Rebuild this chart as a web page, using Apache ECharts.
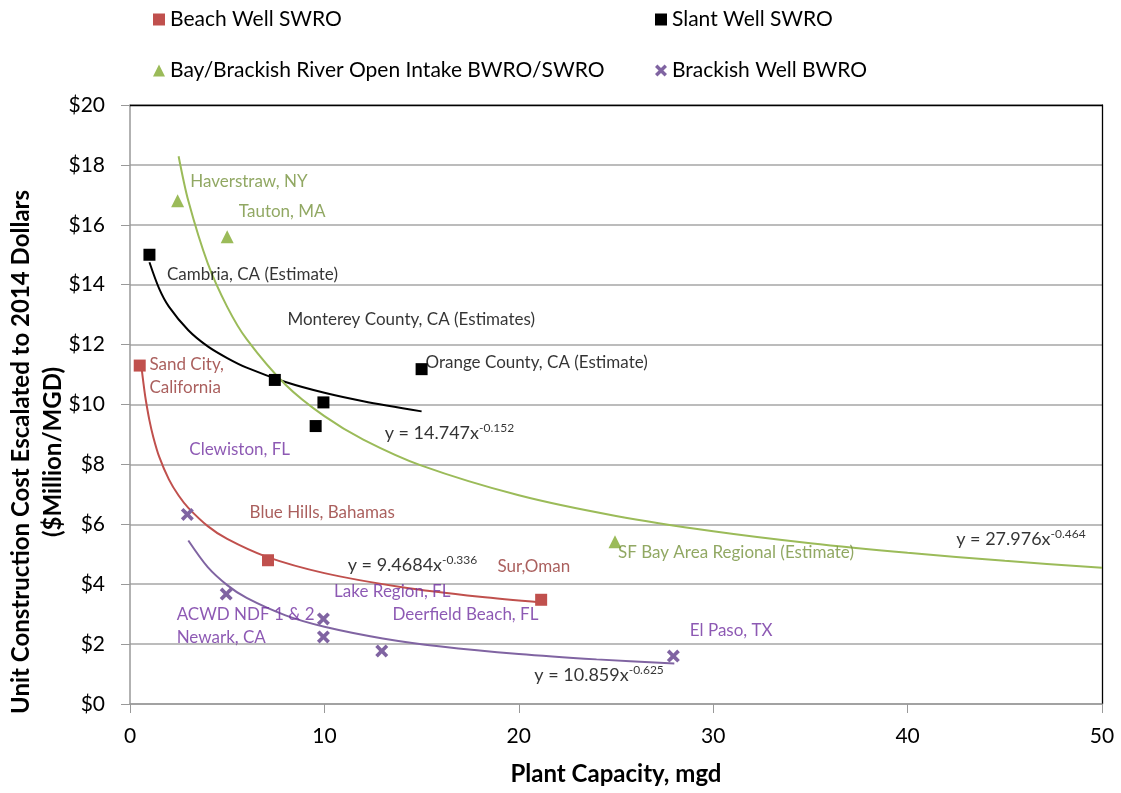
<!DOCTYPE html>
<html>
<head>
<meta charset="utf-8">
<script src="https://cdn.jsdelivr.net/npm/echarts@6/dist/echarts.min.js"></script>
<style>
html, body { margin: 0; padding: 0; background: #fff; }
#chartmain { width: 1121px; height: 793px; }
</style>
</head>
<body>
<div id="chartmain"></div>
<script>
// points (plant capacity mgd, $M/MGD)
var beachX = [0.5, 7.1, 21.15];
var beachY = [11.3, 4.8, 3.48];
var slantX = [1, 7.45, 9.95, 9.55, 15];
var slantY = [15.0, 10.82, 10.07, 9.28, 11.18];
var bayX = [2.45, 5, 24.95];
var bayY = [16.8, 15.6, 5.42];
var bwroX = [2.95, 4.95, 9.95, 9.95, 12.95, 27.95];
var bwroY = [6.33, 3.67, 2.84, 2.24, 1.77, 1.6];

// power trend curves
var beachTrendX = [0.6, 0.7, 0.8, 1, 1.2, 1.5, 2, 2.5, 3, 4, 5, 7, 10, 14, 18, 21.2];
var beachTrendY = [11.2, 10.67, 10.2, 9.47, 8.91, 8.26, 7.5, 6.96, 6.55, 5.94, 5.51, 4.92, 4.37, 3.9, 3.58, 3.39];
var slantTrendX = [1, 1.5, 2, 3, 4, 5, 6, 8, 10, 12, 15];
var slantTrendY = [14.75, 13.87, 13.27, 12.48, 11.94, 11.55, 11.23, 10.75, 10.39, 10.11, 9.77];
var bayTrendX = [2.5, 3, 4, 5, 6, 8, 10, 12, 15, 20, 25, 30, 35, 40, 45, 50];
var bayTrendY = [18.29, 16.8, 14.71, 13.26, 12.18, 10.66, 9.61, 8.83, 7.96, 6.97, 6.28, 5.77, 5.37, 5.05, 4.78, 4.55];
var bwroTrendX = [3, 4, 5, 6, 8, 10, 13, 16, 20, 24, 28];
var bwroTrendY = [5.46, 4.57, 3.97, 3.54, 2.96, 2.58, 2.19, 1.92, 1.67, 1.49, 1.35];

var seriesNames = ['Beach Well SWRO', 'Slant Well SWRO', 'Bay/Brackish River Open Intake BWRO/SWRO', 'Brackish Well BWRO'];

// site labels [x, y, text]
var beachLabels = [[1.0, 10.95, 'Sand City,\nCalifornia'], [6.15, 6.4, 'Blue Hills, Bahamas'], [18.9, 4.6, 'Sur,Oman']];
var slantLabels = [[1.9, 14.35, 'Cambria, CA (Estimate)'], [8.1, 12.85, 'Monterey County, CA (Estimates)'], [15.2, 11.4, 'Orange County, CA (Estimate)']];
var bayLabels = [[3.1, 17.45, 'Haverstraw, NY'], [5.6, 16.45, 'Tauton, MA'], [25.1, 5.05, 'SF Bay Area Regional (Estimate)']];
var bwroLabels = [[3.05, 8.5, 'Clewiston, FL'], [10.5, 3.75, 'Lake Region, FL'], [13.5, 2.98, 'Deerfield Beach, FL'], [2.4, 2.6, 'ACWD NDF 1 & 2\nNewark, CA'], [28.8, 2.45, 'El Paso, TX']];
// trend equations [x, y, coefficient, exponent]
var eqLabels = [[13.1, 9.05, '14.747', '-0.152'], [11.2, 4.65, '9.4684', '-0.336'], [20.8, 0.95, '10.859', '-0.625'], [42.5, 5.5, '27.976', '-0.464']];

var FONT = 'Lato, "Open Sans", sans-serif';
var colRed = '#C0504D', colGreen = '#9BBB59', colPurple = '#8064A2', colBlack = '#000000';
var xMark = 'path://M0,2 L2,0 L5,3 L8,0 L10,2 L7,5 L10,8 L8,10 L5,7 L2,10 L0,8 L3,5 Z';

function zip(xs, ys) {
    var out = [];
    for (var i = 0; i < xs.length; i++) out.push([xs[i], ys[i]]);
    return out;
}

function pointSeries(name, xs, ys, color, symbol, size) {
    return {
        name: name, type: 'scatter', data: zip(xs, ys),
        symbol: symbol, symbolSize: size, z: 5,
        itemStyle: { color: color, opacity: 1 }
    };
}

function trendSeries(xs, ys, color) {
    return {
        type: 'line', data: zip(xs, ys), showSymbol: false, smooth: 0.3,
        lineStyle: { color: color, width: 2 }, silent: true, z: 3
    };
}

function labelSeries(data, color) {
    return {
        type: 'scatter', data: data, symbolSize: 0, silent: true, z: 6,
        label: {
            show: true, position: [0, 0], align: 'left', verticalAlign: 'middle',
            formatter: function (p) { return p.value[2]; },
            color: color, fontFamily: FONT, fontSize: 17, lineHeight: 23
        }
    };
}

function oneLegend(name, left, top, icon) {
    return {
        data: [{ name: name, icon: icon }], left: left, top: top,
        itemWidth: 12, itemHeight: 12, itemGap: 8, selectedMode: false,
        textStyle: { fontFamily: FONT, fontSize: 21, color: '#000' }
    };
}

var myChart = echarts.init(document.getElementById('chartmain'));

var option = {
    backgroundColor: '#fff',
    animation: false,
    legend: [
        oneLegend(seriesNames[0], 148, 4, 'rect'),
        oneLegend(seriesNames[1], 650, 4, 'rect'),
        oneLegend(seriesNames[2], 148, 55, 'triangle'),
        oneLegend(seriesNames[3], 650, 55, xMark)
    ],
    graphic: [{
        type: 'text', x: 37, y: 452, rotation: Math.PI / 2, silent: true,
        style: {
            text: 'Unit Construction Cost Escalated to 2014 Dollars\n($Million/MGD)',
            fontFamily: FONT, fontSize: 24, fontWeight: 'bold', fill: '#000',
            lineHeight: 32, align: 'center', verticalAlign: 'middle'
        }
    }],
    grid: { left: 130, right: 19, top: 105, bottom: 89, outerBoundsMode: 'none', containLabel: false },
    xAxis: [{
        type: 'value', min: 0, max: 50, interval: 10,
        name: 'Plant Capacity, mgd', nameLocation: 'middle', nameGap: 58,
        nameTextStyle: { fontFamily: FONT, fontSize: 24, fontWeight: 'bold', color: '#000' },
        axisLine: { show: true, onZero: false, lineStyle: { color: '#999', width: 1.5 } },
        axisTick: { show: true, length: 9, lineStyle: { color: '#999' } },
        axisLabel: { margin: 22, fontFamily: FONT, fontSize: 21, color: '#000' },
        splitLine: { show: false }
    }, {
        type: 'value', min: 0, max: 50, position: 'top',
        axisLine: { show: true, onZero: false, lineStyle: { color: '#000', width: 1.3 } },
        axisTick: { show: false }, axisLabel: { show: false }, splitLine: { show: false }
    }],
    yAxis: [{
        type: 'value', min: 0, max: 20, interval: 2,
        axisLine: { show: true, onZero: false, lineStyle: { color: '#999', width: 1.5 } },
        axisTick: { show: true, length: 9, lineStyle: { color: '#999' } },
        axisLabel: { margin: 25, fontFamily: FONT, fontSize: 21, color: '#000', formatter: '${value}' },
        splitLine: { show: true, lineStyle: { color: '#a6a6a6', width: 1.5 } }
    }, {
        type: 'value', min: 0, max: 20, position: 'right',
        axisLine: { show: true, onZero: false, lineStyle: { color: '#000', width: 1.3 } },
        axisTick: { show: false }, axisLabel: { show: false }, splitLine: { show: false }
    }],
    series: [
        trendSeries(beachTrendX, beachTrendY, colRed),
        trendSeries(slantTrendX, slantTrendY, colBlack),
        trendSeries(bayTrendX, bayTrendY, colGreen),
        trendSeries(bwroTrendX, bwroTrendY, colPurple),
        pointSeries(seriesNames[0], beachX, beachY, colRed, 'rect', 12),
        pointSeries(seriesNames[1], slantX, slantY, colBlack, 'rect', 12),
        pointSeries(seriesNames[2], bayX, bayY, colGreen, 'triangle', 13),
        pointSeries(seriesNames[3], bwroX, bwroY, colPurple, xMark, 13),
        labelSeries(beachLabels, '#953735'),
        labelSeries(slantLabels, '#000000'),
        labelSeries(bayLabels, '#76923C'),
        labelSeries(bwroLabels, '#7030A0'),
        {
            type: 'scatter', data: eqLabels, symbolSize: 0, silent: true, z: 6,
            label: {
                show: true, position: [0, 0], align: 'left', verticalAlign: 'middle',
                formatter: function (p) { return '{n|y = ' + p.value[2] + 'x}{s|' + p.value[3] + '}'; },
                rich: {
                    n: { fontFamily: FONT, fontSize: 18, color: '#000', lineHeight: 22 },
                    s: { fontFamily: FONT, fontSize: 12, color: '#000', verticalAlign: 'top', lineHeight: 13 }
                }
            }
        }
    ]
};

myChart.setOption(option);
</script>
</body>
</html>
